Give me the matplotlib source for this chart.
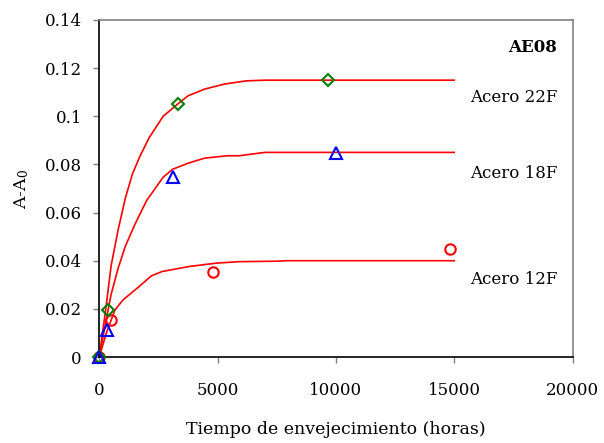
import matplotlib
matplotlib.use("Agg")
import matplotlib.pyplot as plt

plt.rcParams['font.family'] = ['DejaVu Serif']
plt.rcParams['mathtext.fontset'] = 'dejavuserif'

# Measured data points
t_22 = [0, 370, 3330, 9670]
a_22 = [0.0, 0.0197, 0.1052, 0.1152]
t_18 = [0, 325, 3115, 10000]
a_18 = [0.0, 0.0112, 0.0748, 0.0848]
t_12 = [0, 494, 4806, 14820]
a_12 = [0.0, 0.0154, 0.0353, 0.0449]

# Fitted curves
ct_22 = [0, 300, 500, 800, 1100, 1400, 1700, 2100, 2700, 3300, 3750, 4450, 5300, 6200, 7000, 15000]
ca_22 = [0.0, 0.022, 0.038, 0.053, 0.066, 0.076, 0.083, 0.091, 0.100, 0.105, 0.1085, 0.1113, 0.1134, 0.1147, 0.115, 0.115]
ct_18 = [0, 300, 500, 800, 1100, 1500, 2000, 2700, 3100, 3750, 4450, 5400, 5900, 7000, 15000]
ca_18 = [0.0, 0.016, 0.026, 0.037, 0.046, 0.055, 0.065, 0.0747, 0.078, 0.0805, 0.0826, 0.0836, 0.0836, 0.085, 0.085]
ct_12 = [0, 300, 660, 1000, 1650, 2200, 2650, 3800, 4950, 5900, 7500, 7900, 15000]
ca_12 = [0.0, 0.010, 0.0195, 0.0237, 0.029, 0.0337, 0.0355, 0.0376, 0.039, 0.0396, 0.0398, 0.040, 0.040]

x_ticks = [0, 5000, 10000, 15000, 20000]
y_ticks = [0, 0.02, 0.04, 0.06, 0.08, 0.10, 0.12, 0.14]
y_ticklabels = ['0', '0.02', '0.04', '0.06', '0.08', '0.1', '0.12', '0.14']

fig = plt.figure(figsize=(6.04, 4.43), dpi=100)
ax = fig.add_axes([99.3/604, 1-357/443, (572.5-99.3)/604, (357-20)/443])

lw = 1.2
for ct, ca in [(ct_22, ca_22), (ct_18, ca_18), (ct_12, ca_12)]:
    ax.plot(ct, ca, color='#ff0000', lw=lw, zorder=2)

ax.plot(t_12, a_12, 'o', ms=7.5, mfc='none', mec='#ff0000', mew=1.5, clip_on=False, zorder=3)
ax.plot(t_22, a_22, 'D', ms=6, mfc='none', mec='#008000', mew=1.5, clip_on=False, zorder=4)
ax.plot(t_18, a_18, '^', ms=8, mfc='none', mec='#0000ff', mew=1.5, clip_on=False, zorder=5)

ax.set_xlim(0, 20000)
ax.set_ylim(0, 0.14)
ax.set_xticks(x_ticks)
ax.set_xticklabels([str(v) for v in x_ticks])
ax.set_yticks(y_ticks)
ax.set_yticklabels(y_ticklabels)

ax.tick_params(axis='both', direction='out', length=4.5, width=1, color='#808080',
               labelsize=12, labelcolor='black', pad=5)
ax.tick_params(axis='x', pad=13.5)
ax.tick_params(axis='y', pad=8)

ax.spines['left'].set_color('black')
ax.spines['bottom'].set_color('black')
ax.spines['top'].set_color('#808080')
ax.spines['right'].set_color('#808080')
for s in ax.spines.values():
    s.set_linewidth(1.2)

ax.set_xlabel('Tiempo de envejecimiento (horas)', fontsize=12.5, labelpad=16)
ax.set_ylabel(r'A-A$_{\mathrm{0}}$', fontsize=12.5, labelpad=10)

ax.text(557/604, 1-48/443, 'AE08', transform=fig.transFigure, fontsize=12,
        fontweight='bold', ha='right', va='center')
ax.text(470/604, 1-98/443, 'Acero 22F', transform=fig.transFigure, fontsize=12,
        ha='left', va='center')
ax.text(470/604, 1-173/443, 'Acero 18F', transform=fig.transFigure, fontsize=12,
        ha='left', va='center')
ax.text(470/604, 1-280/443, 'Acero 12F', transform=fig.transFigure, fontsize=12,
        ha='left', va='center')

fig.savefig('out.png', dpi=100)
